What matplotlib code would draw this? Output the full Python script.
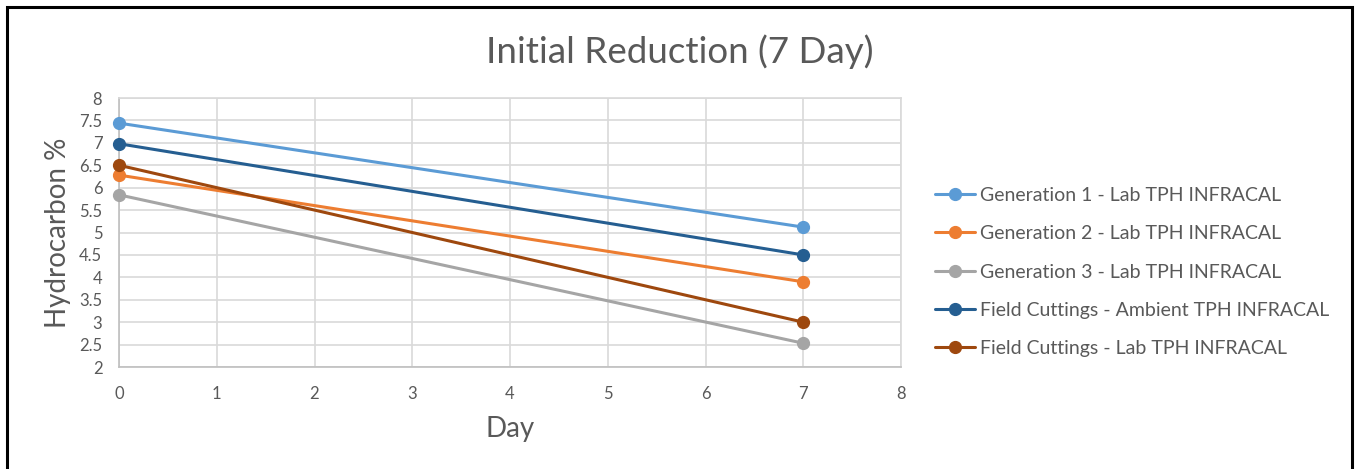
import matplotlib.pyplot as plt
from matplotlib.patches import Rectangle

plt.rcParams['font.family'] = ['Lato', 'DejaVu Sans']

days = [0, 7]
series_names = [
    "Generation 1 - Lab TPH INFRACAL",
    "Generation 2 - Lab TPH INFRACAL",
    "Generation 3 - Lab TPH INFRACAL",
    "Field Cuttings - Ambient TPH INFRACAL",
    "Field Cuttings - Lab TPH INFRACAL",
]
gen1 = [7.44, 5.12]
gen2 = [6.28, 3.90]
gen3 = [5.84, 2.53]
fc_ambient = [6.98, 4.50]
fc_lab = [6.50, 3.00]
colors = ["#5B9BD5", "#ED7D31", "#A5A5A5", "#255E91", "#9E480E"]

x_ticks = [0, 1, 2, 3, 4, 5, 6, 7, 8]
y_ticks = [2, 2.5, 3, 3.5, 4, 4.5, 5, 5.5, 6, 6.5, 7, 7.5, 8]
y_ticklabels = ["2", "2.5", "3", "3.5", "4", "4.5", "5", "5.5", "6", "6.5", "7", "7.5", "8"]

text_col = "#595959"

fig = plt.figure(figsize=(13.6, 4.69), dpi=100)
ax = fig.add_axes([119 / 1360, 1 - 367 / 469, (901 - 119) / 1360, (367 - 98) / 469])

for name, vals, c in zip(series_names, [gen1, gen2, gen3, fc_ambient, fc_lab], colors):
    ax.plot(days, vals, color=c, lw=2.2, marker="o", markersize=8.5, label=name,
            solid_capstyle="round", clip_on=False, zorder=3)

ax.set_xlim(0, 8)
ax.set_ylim(2, 8)
ax.set_xticks(x_ticks)
ax.set_yticks(y_ticks)
ax.set_yticklabels(y_ticklabels)
ax.grid(True, color="#d9d9d9", lw=1.2)
ax.set_axisbelow(True)
for s in ax.spines.values():
    s.set_color("#d9d9d9")
    s.set_linewidth(1.2)
ax.spines["left"].set_color("#bfbfbf")
ax.spines["bottom"].set_color("#bfbfbf")
ax.tick_params(length=0, labelsize=12, labelcolor=text_col)
ax.tick_params(axis="x", pad=14)
ax.tick_params(axis="y", pad=12)

ax.set_xlabel("Day", fontsize=20, color=text_col, labelpad=10)
ax.set_ylabel("Hydrocarbon %", fontsize=20, color=text_col, labelpad=6)
fig.text(680 / 1360, 1 - 52 / 469, "Initial Reduction (7 Day)", fontsize=26.5,
         color=text_col, ha="center", va="center")

leg = ax.legend(loc="center left", bbox_to_anchor=(935 / 1360, 1 - 272 / 469),
                bbox_transform=fig.transFigure, frameon=False, fontsize=14,
                handlelength=2.06, handletextpad=0.25, labelspacing=1.1,
                borderaxespad=0, borderpad=0)
for t in leg.get_texts():
    t.set_color(text_col)

# black frame around the chart (bottom edge cut off by the image)
fig.patches.append(Rectangle((7 / 1360, -0.05), (1352 - 7) / 1360, 1.05 - 7 / 469,
                             transform=fig.transFigure, fill=False,
                             edgecolor="black", lw=2.2))

fig.savefig("out.png", dpi=100)
